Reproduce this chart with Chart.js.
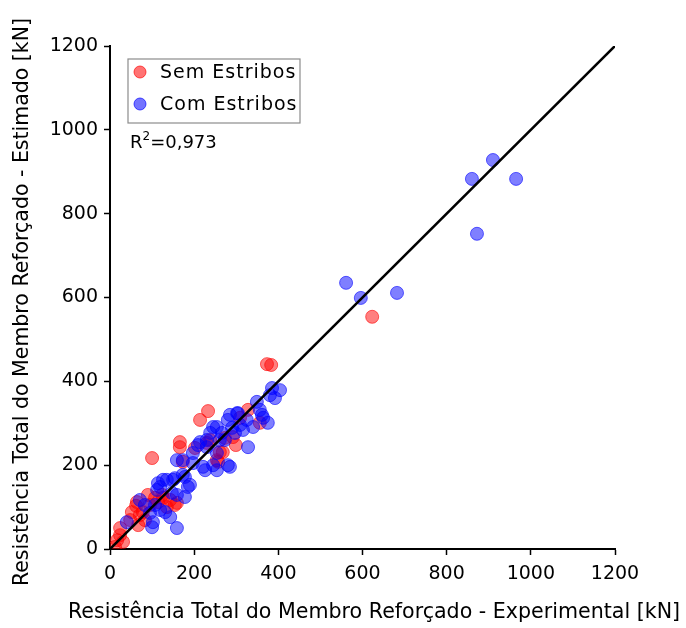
<!DOCTYPE html>
<html>
<head>
<meta charset="utf-8">
<script src="https://cdn.jsdelivr.net/npm/chart.js@4.4.0/dist/chart.umd.min.js"></script>
<style>
  html, body { margin: 0; padding: 0; background: #fff; }
  #wrap { width: 686px; height: 628px; }
</style>
</head>
<body>
<div id="wrap"><canvas id="chart"></canvas></div>
<script>
// ================================
// Data (kN)
// ================================
const semX = [623, 373, 383, 328, 233, 214, 166, 166, 100, 268, 257, 238, 292, 261, 254, 230, 173,
    159, 64, 62, 90, 107, 114, 126, 135, 78, 52, 67, 24, 24, 17, 31, 12, 48, 71, 83, 95, 143, 154,
    124, 356, 309, 273, 202, 299];
const semY = [554, 441, 439, 332, 329, 308, 255, 243, 217, 231, 208, 260, 267, 231, 212, 253, 208,
    110, 112, 103, 129, 122, 112, 122, 100, 88, 88, 57, 50, 33, 21, 17, 5, 69, 81, 69, 105, 117, 105,
    129, 301, 313, 265, 241, 248];

const comX = [860, 910, 965, 872, 561, 596, 682, 385, 404, 380, 349, 364, 375, 302, 280, 254, 245,
    238, 266, 285, 304, 325, 316, 297, 328, 230, 214, 230, 197, 254, 159, 173, 280, 245, 285, 254,
    221, 197, 226, 126, 150, 173, 185, 119, 112, 114, 135, 154, 178, 190, 147, 159, 178, 95, 102,
    40, 143, 159, 131, 100, 83, 71, 107, 119, 209, 340, 356, 361, 392, 273, 309, 290, 261];
const comY = [883, 928, 883, 752, 635, 599, 611, 384, 379, 367, 351, 313, 301, 324, 308, 291, 291,
    277, 277, 320, 324, 308, 284, 277, 243, 243, 255, 260, 229, 229, 212, 212, 200, 200, 196, 188,
    196, 205, 188, 165, 165, 177, 148, 148, 141, 157, 165, 169, 172, 153, 134, 129, 124, 86, 64,
    64, 76, 50, 88, 52, 105, 117, 105, 93, 248, 291, 332, 320, 360, 260, 296, 289, 260];

const lineX = [0, 1200];
const lineY = [0, 1200];
const axisTicks = [0, 200, 400, 600, 800, 1000, 1200];
const r2Value = '=0,973';

const FONT = "'DejaVu Sans', sans-serif";

const toPoints = (xs, ys) => xs.map((x, i) => ({ x: x, y: ys[i] }));

// ================================
// Legend box, R² note and axis titles
// ================================
const annotations = {
    id: 'annotations',
    afterDraw(chart) {
        const ctx = chart.ctx;
        ctx.save();

        // legend frame
        ctx.fillStyle = 'rgba(255,255,255,0.8)';
        ctx.fillRect(128, 59, 172, 64);
        ctx.strokeStyle = '#8c8c8c';
        ctx.lineWidth = 1.2;
        ctx.strokeRect(128, 59, 172, 64);

        const items = [
            { label: 'Sem Estribos', fill: 'rgba(255,0,0,0.55)', stroke: 'rgba(255,0,0,0.65)', y: 72 },
            { label: 'Com Estribos', fill: 'rgba(0,0,255,0.55)', stroke: 'rgba(0,0,255,0.65)', y: 104 }
        ];
        ctx.font = '19px ' + FONT;
        ctx.textBaseline = 'middle';
        ctx.textAlign = 'left';
        items.forEach(it => {
            ctx.beginPath();
            ctx.arc(140, it.y, 6, 0, Math.PI * 2);
            ctx.fillStyle = it.fill;
            ctx.fill();
            ctx.strokeStyle = it.stroke;
            ctx.lineWidth = 1;
            ctx.stroke();
            ctx.fillStyle = '#000';
            ctx.letterSpacing = '1px';
            ctx.fillText(it.label, 160, it.y + 1);
            ctx.letterSpacing = '0px';
        });

        // R² with raised exponent
        ctx.fillStyle = '#000';
        ctx.textBaseline = 'alphabetic';
        ctx.font = '18px ' + FONT;
        ctx.fillText('R', 130, 148);
        let x = 130 + ctx.measureText('R').width;
        ctx.font = '12px ' + FONT;
        ctx.fillText('2', x, 140);
        x += ctx.measureText('2').width;
        ctx.font = '18px ' + FONT;
        ctx.fillText(r2Value, x, 148);

        // axis titles
        ctx.font = '20.6px ' + FONT;
        ctx.textAlign = 'center';
        ctx.textBaseline = 'middle';
        ctx.fillText('Resistência Total do Membro Reforçado - Experimental [kN]', 374, 613);
        ctx.font = '20.5px ' + FONT;
        ctx.translate(23, 302);
        ctx.rotate(-Math.PI / 2);
        ctx.fillText('Resistência Total do Membro Reforçado - Estimado [kN]', 0, 0);

        ctx.restore();
    }
};

function axisOptions(pos, size) {
    return {
        type: 'linear',
        position: pos,
        min: 0,
        max: 1200,
        afterBuildTicks: s => { s.ticks = axisTicks.map(v => ({ value: v })); },
        afterFit: s => {
            if (pos === 'left') s.width = size; else s.height = size;
        },
        grid: {
            drawOnChartArea: false,
            drawTicks: true,
            tickLength: 6,
            tickWidth: 1.5,
            tickColor: '#000'
        },
        border: { display: true, color: '#000', width: 2 },
        ticks: {
            color: '#000',
            padding: pos === 'left' ? 6 : 8,
            font: { family: FONT, size: 19 },
            callback: v => String(v)
        }
    };
}

new Chart(document.getElementById('chart'), {
    type: 'scatter',
    data: {
        datasets: [
            {
                label: 'y = x',
                data: toPoints(lineX, lineY),
                showLine: true,
                borderColor: '#000',
                borderWidth: 2.6,
                pointRadius: 0,
                order: 0
            },
            {
                label: 'Com Estribos',
                data: toPoints(comX, comY),
                backgroundColor: 'rgba(0,0,255,0.5)',
                borderColor: 'rgba(0,0,255,0.6)',
                borderWidth: 1,
                pointRadius: 6.5,
                order: 1
            },
            {
                label: 'Sem Estribos',
                data: toPoints(semX, semY),
                backgroundColor: 'rgba(255,0,0,0.5)',
                borderColor: 'rgba(255,0,0,0.6)',
                borderWidth: 1,
                pointRadius: 6.5,
                order: 2
            }
        ]
    },
    options: {
        responsive: true,
        maintainAspectRatio: false,
        animation: false,
        layout: { padding: { top: 46, right: 71, left: 0, bottom: 0 } },
        plugins: {
            legend: { display: false },
            tooltip: { enabled: false }
        },
        scales: {
            x: axisOptions('bottom', 79),
            y: axisOptions('left', 110)
        }
    },
    plugins: [annotations]
});
</script>
</body>
</html>
